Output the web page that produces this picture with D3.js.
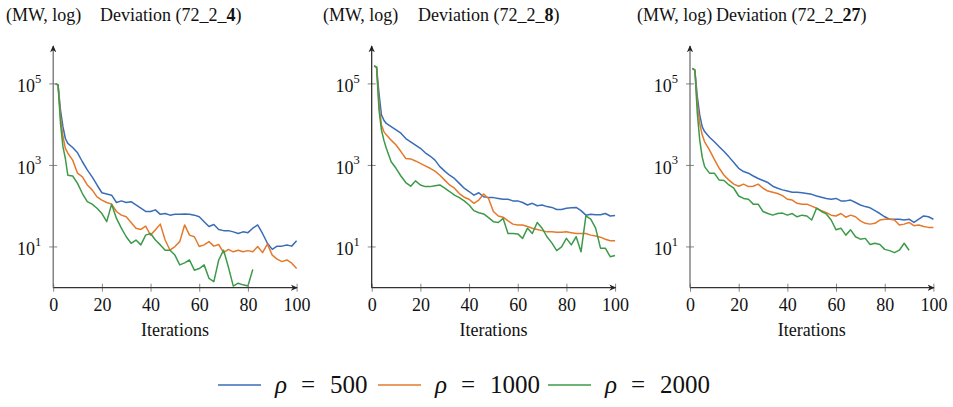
<!DOCTYPE html>
<html>
<head>
<meta charset="utf-8">
<script src="https://cdn.jsdelivr.net/npm/d3@7"></script>
<style>
  body { margin: 0; background: #fff; }
  svg text { font-family: "Liberation Serif", "Times New Roman", serif; }
</style>
</head>
<body>
<div id="chart"></div>
<script>
var iterations = [1, 2, 3, 4, 5, 6,
    8, 10, 12, 14, 16, 18, 20, 22, 24, 26,
    28, 30, 32, 34, 36, 38, 40, 42, 44, 46,
    48, 50, 52, 54, 56, 58, 60, 62, 64, 66,
    68, 70, 72, 74, 76, 78, 80, 82, 84, 86,
    88, 90, 92, 94, 96, 98, 100];

// log10 of the deviation (MW), case 72_2_4
var dev4_rho500 = [5.00, 4.97, 4.36, 3.95, 3.66, 3.54,
    3.44, 3.31, 3.09, 2.89, 2.72, 2.52, 2.33, 2.30, 2.27, 2.09,
    2.13, 2.09, 2.11, 2.03, 1.95, 1.87, 1.87, 1.91, 1.80, 1.82,
    1.78, 1.80, 1.80, 1.81, 1.80, 1.78, 1.74, 1.62, 1.50, 1.55,
    1.43, 1.40, 1.40, 1.37, 1.33, 1.37, 1.35, 1.46, 1.54, 1.33,
    1.09, 0.94, 1.02, 1.02, 1.05, 1.02, 1.15];
var dev4_rho1000 = [5.00, 4.97, 4.20, 3.71, 3.42, 3.30,
    3.13, 2.81, 2.72, 2.52, 2.40, 2.23, 2.15, 2.09, 2.05, 1.87,
    1.78, 1.74, 1.60, 1.46, 1.43, 1.51, 1.29, 1.42, 1.56, 1.17,
    0.92, 1.01, 1.13, 1.54, 1.29, 1.25, 1.01, 1.05, 1.13, 1.02,
    1.06, 0.86, 0.94, 0.88, 0.92, 0.88, 0.91, 0.88, 1.01, 0.86,
    1.07, 0.80, 0.70, 0.64, 0.68, 0.60, 0.47];
var dev4_rho2000 = [5.00, 4.98, 4.03, 3.46, 3.17, 2.76,
    2.74, 2.56, 2.31, 2.11, 2.05, 1.95, 1.82, 1.62, 2.05, 1.70,
    1.46, 1.25, 1.09, 1.17, 1.05, 1.29, 1.33, 1.17, 1.05, 0.92,
    0.92, 0.80, 0.56, 0.61, 0.68, 0.43, 0.47, 0.56, 0.23, 0.15,
    0.68, 0.92, 0.50, 0.04, 0.11, 0.07, 0.04, 0.45, null, null,
    null, null, null, null, null, null, null];

// case 72_2_8
var dev8_rho500 = [5.44, 5.41, 4.77, 4.24, 4.11, 4.03,
    3.95, 3.87, 3.79, 3.66, 3.58, 3.50, 3.42, 3.31, 3.23, 3.13,
    2.97, 2.86, 2.76, 2.68, 2.56, 2.44, 2.36, 2.27, 2.33, 2.23,
    2.21, 2.21, 2.19, 2.17, 2.17, 2.13, 2.13, 2.09, 2.03, 2.07,
    2.01, 2.03, 1.99, 1.97, 1.92, 1.92, 1.95, 1.96, 1.97, 1.89,
    1.78, 1.80, 1.79, 1.79, 1.82, 1.76, 1.77];
var dev8_rho1000 = [5.44, 5.41, 4.52, 3.99, 3.83, 3.75,
    3.62, 3.50, 3.34, 3.17, 3.16, 3.11, 3.05, 2.99, 2.93, 2.86,
    2.76, 2.64, 2.52, 2.44, 2.31, 2.22, 2.17, 2.07, 2.15, 2.30,
    2.19, 1.87, 1.76, 1.73, 1.64, 1.56, 1.54, 1.54, 1.50, 1.46,
    1.43, 1.40, 1.37, 1.37, 1.36, 1.36, 1.37, 1.35, 1.33, 1.33,
    1.33, 1.29, 1.27, 1.24, 1.19, 1.15, 1.15];
var dev8_rho2000 = [5.44, 5.41, 4.36, 3.87, 3.62, 3.42,
    3.09, 2.93, 2.74, 2.58, 2.49, 2.62, 2.52, 2.48, 2.48, 2.50,
    2.52, 2.44, 2.36, 2.27, 2.21, 2.13, 2.03, 1.89, 1.84, 1.81,
    1.72, 1.62, 1.60, 1.70, 1.33, 1.33, 1.32, 1.21, 1.46, 1.33,
    1.60, 1.46, 1.25, 1.10, 0.91, 1.00, 1.21, 1.05, 1.25, 0.88,
    1.76, 1.68, 1.46, 0.97, 0.97, 0.76, 0.79];

// case 72_2_27
var dev27_rho500 = [5.38, 5.34, 4.69, 4.24, 3.95, 3.83,
    3.69, 3.58, 3.46, 3.34, 3.21, 3.07, 2.93, 2.85, 2.81, 2.74,
    2.68, 2.63, 2.58, 2.49, 2.44, 2.40, 2.37, 2.34, 2.34, 2.33,
    2.31, 2.29, 2.25, 2.22, 2.19, 2.17, 2.19, 2.13, 2.13, 2.15,
    2.09, 2.03, 1.99, 1.96, 1.89, 1.82, 1.74, 1.68, 1.68, 1.68,
    1.66, 1.68, 1.60, 1.68, 1.76, 1.74, 1.68];
var dev27_rho1000 = [5.38, 5.34, 4.52, 4.03, 3.75, 3.58,
    3.38, 3.15, 2.93, 2.76, 2.64, 2.54, 2.49, 2.54, 2.48, 2.49,
    2.54, 2.44, 2.37, 2.34, 2.31, 2.26, 2.17, 2.15, 2.07, 2.05,
    2.05, 2.00, 1.95, 1.89, 1.84, 1.78, 1.76, 1.82, 1.73, 1.78,
    1.74, 1.64, 1.58, 1.56, 1.58, 1.66, 1.68, 1.68, 1.66, 1.54,
    1.56, 1.60, 1.52, 1.54, 1.50, 1.48, 1.48];
var dev27_rho2000 = [5.38, 5.34, 4.28, 3.62, 3.21, 2.97,
    2.81, 2.81, 2.64, 2.63, 2.52, 2.44, 2.25, 2.19, 2.17, 2.05,
    2.05, 1.87, 1.82, 1.78, 1.82, 1.83, 1.78, 1.82, 1.74, 1.78,
    1.76, 1.66, 1.95, 1.87, 1.81, 1.66, 1.42, 1.46, 1.29, 1.42,
    1.25, 1.19, 1.21, 1.06, 1.09, 1.06, 0.94, 0.91, 0.86, 0.92,
    1.09, 0.92, null, null, null, null, null];

var caseNames = ["4", "8", "27"];
var rhoValues = ["500", "1000", "2000"];
var xTicks = [0, 20, 40, 60, 80, 100];
var yTickExponents = [1, 3, 5];

var panels = [
    [dev4_rho500, dev4_rho1000, dev4_rho2000],
    [dev8_rho500, dev8_rho1000, dev8_rho2000],
    [dev27_rho500, dev27_rho1000, dev27_rho2000]
];

var colors = ["#3b6cb8", "#e5792b", "#3c9a48"];
var serif = "'Liberation Serif', 'Times New Roman', serif";

var W = 953, H = 407;
var panelLeft = [53.2, 371.7, 690];
var plotW = 243.4;
var plotBottom = 287.7, plotTop = 46;
var mwX = [6, 323, 637];      // title "(MW, log)" start
var devX = [100, 418, 716];   // title "Deviation (...)" start

var svg = d3.select("#chart").append("svg")
    .attr("width", W)
    .attr("height", H);

svg.append("defs").append("marker")
    .attr("id", "arrow")
    .attr("viewBox", "0 -5 10 10")
    .attr("refX", 9)
    .attr("refY", 0)
    .attr("markerWidth", 7)
    .attr("markerHeight", 7)
    .attr("markerUnits", "userSpaceOnUse")
    .attr("orient", "auto")
  .append("path")
    .attr("d", "M0,-4.5L10,0L0,4.5L3,0Z")
    .attr("fill", "#222");

var y = d3.scaleLog()
    .domain([1, Math.pow(10, 5.93)])
    .range([plotBottom, plotTop]);

panels.forEach(function(series, p) {
    var x = d3.scaleLinear()
        .domain([0, 100])
        .range([panelLeft[p], panelLeft[p] + plotW]);

    var g = svg.append("g");

    g.append("clipPath")
        .attr("id", "clip" + p)
      .append("rect")
        .attr("x", panelLeft[p])
        .attr("y", plotTop)
        .attr("width", plotW + 2)
        .attr("height", plotBottom - plotTop);

    // lines
    var line = d3.line()
        .defined(function(d) { return d[1] != null; })
        .x(function(d) { return x(d[0]); })
        .y(function(d) { return y(Math.pow(10, d[1])); });

    series.forEach(function(vals, s) {
        var pts = iterations.map(function(it, i) { return [it, vals[i]]; });
        g.append("path")
            .datum(pts)
            .attr("clip-path", "url(#clip" + p + ")")
            .attr("fill", "none")
            .attr("stroke", colors[s])
            .attr("stroke-width", 1.5)
            .attr("stroke-linejoin", "round")
            .attr("d", line);
    });

    // x axis
    var xAxis = g.append("g")
        .attr("transform", "translate(0," + plotBottom + ")")
        .call(d3.axisBottom(x).tickValues(xTicks).tickSize(4).tickSizeOuter(0));
    xAxis.attr("font-family", serif);
    xAxis.select(".domain").remove();
    xAxis.selectAll(".tick line")
        .attr("y1", -4).attr("y2", 4)
        .attr("stroke", "#888");
    xAxis.selectAll(".tick text")
        .attr("y", 11)
        .attr("dy", "0.71em")
        .attr("fill", "#111")
        .attr("font-family", serif)
        .attr("font-size", 18);

    // y ticks
    var yAxis = g.append("g")
        .attr("transform", "translate(" + panelLeft[p] + ",0)");
    yTickExponents.forEach(function(e) {
        var ty = y(Math.pow(10, e));
        yAxis.append("line")
            .attr("x1", -4).attr("x2", 4)
            .attr("y1", ty).attr("y2", ty)
            .attr("stroke", "#888");
        var t = yAxis.append("text")
            .attr("x", -12)
            .attr("y", ty + 8.5)
            .attr("text-anchor", "end")
            .attr("fill", "#111")
            .attr("font-family", serif)
            .attr("font-size", 18);
        t.append("tspan").text("10");
        t.append("tspan")
            .attr("dy", -9.5)
            .attr("font-size", 12.5)
            .text(e);
    });

    // axis lines with arrows
    g.append("line")
        .attr("x1", panelLeft[p]).attr("x2", panelLeft[p] + plotW + 0.5)
        .attr("y1", plotBottom).attr("y2", plotBottom)
        .attr("stroke", "#333").attr("stroke-width", 1.2)
        .attr("marker-end", "url(#arrow)");
    g.append("line")
        .attr("x1", panelLeft[p]).attr("x2", panelLeft[p])
        .attr("y1", plotBottom).attr("y2", plotTop)
        .attr("stroke", p == 1 ? "#222" : "#666").attr("stroke-width", 1.2)
        .attr("marker-end", "url(#arrow)");

    // x label
    g.append("text")
        .attr("x", panelLeft[p] + plotW / 2)
        .attr("y", 336)
        .attr("text-anchor", "middle")
        .attr("fill", "#111")
        .attr("font-family", serif)
        .attr("font-size", 18)
        .text("Iterations");

    // titles
    g.append("text")
        .attr("x", mwX[p])
        .attr("y", 21)
        .attr("fill", "#111")
        .attr("font-family", serif)
        .attr("font-size", 18)
        .text("(MW, log)");
    var dt = g.append("text")
        .attr("x", devX[p])
        .attr("y", 21)
        .attr("fill", "#111")
        .attr("font-family", serif)
        .attr("font-size", 18);
    dt.append("tspan").text("Deviation (72_2_");
    dt.append("tspan").attr("font-weight", "bold").text(caseNames[p]);
    dt.append("tspan").text(")");
});

// legend
var legendX = [218, 378, 548];
var legend = svg.append("g")
    .attr("font-family", serif)
    .attr("font-size", 25)
    .attr("fill", "#111");
rhoValues.forEach(function(r, i) {
    var lx = legendX[i];
    legend.append("line")
        .attr("x1", lx).attr("x2", lx + 43)
        .attr("y1", 385).attr("y2", 385)
        .attr("stroke", colors[i])
        .attr("stroke-width", 1.6);
    legend.append("text")
        .attr("x", lx + 57)
        .attr("y", 393)
        .attr("font-style", "italic")
        .text("ρ");
    legend.append("text")
        .attr("x", lx + 83)
        .attr("y", 393)
        .text("=");
    legend.append("text")
        .attr("x", lx + 112)
        .attr("y", 393)
        .text(r);
});
</script>
</body>
</html>
